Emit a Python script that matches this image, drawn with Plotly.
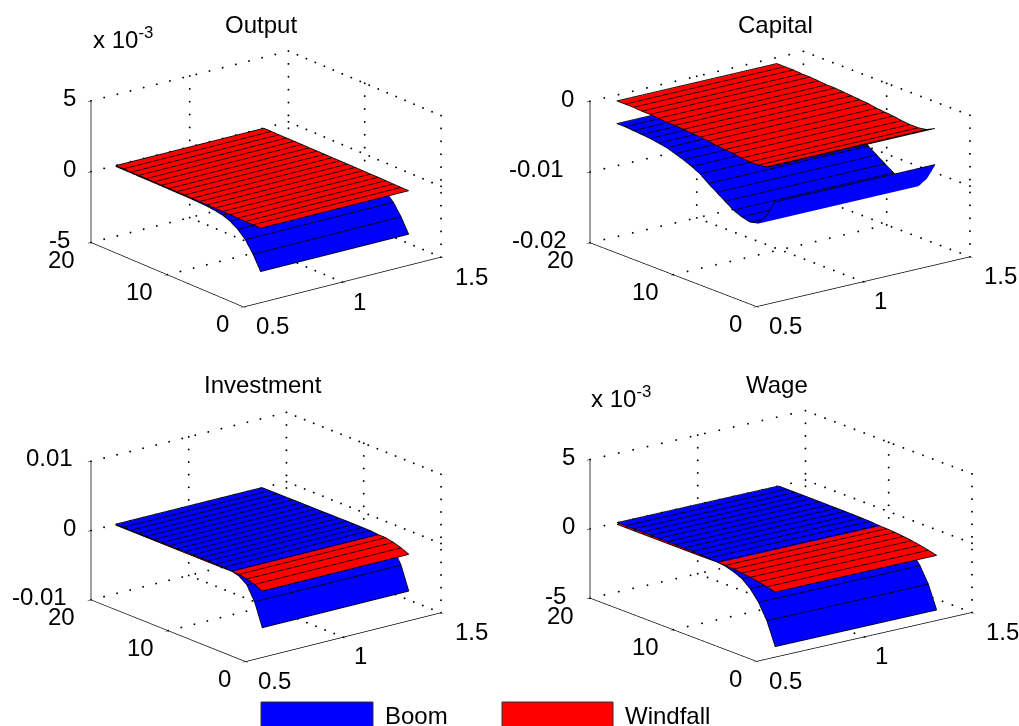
import math
import numpy as np
import plotly.graph_objects as go

x_surface = [0.625, 1.375]
periods = list(range(1, 21))

output_boom = [-3.2e-3,-2.2e-3,-1.4e-3,-0.9e-3,-0.55e-3,-0.35e-3,-0.25e-3,-0.19e-3,-0.16e-3,-0.14e-3,-0.13e-3,-0.13e-3,-0.12e-3,-0.12e-3,-0.11e-3,-0.11e-3,-0.11e-3,-0.10e-3,-0.10e-3,-0.10e-3]
output_windfall = [-0.13e-3,-0.12e-3,-0.11e-3,-0.10e-3,-0.09e-3,-0.09e-3,-0.08e-3,-0.08e-3,-0.07e-3,-0.07e-3,-0.07e-3,-0.06e-3,-0.06e-3,-0.06e-3,-0.05e-3,-0.05e-3,-0.05e-3,-0.05e-3,-0.04e-3,-0.04e-3]
capital_boom = [-0.0066,-0.0090,-0.0105,-0.0108,-0.0105,-0.0100,-0.0092,-0.0084,-0.0076,-0.0067,-0.0061,-0.0056,-0.0052,-0.0048,-0.0046,-0.0044,-0.0043,-0.0042,-0.0041,-0.0041]
capital_windfall = [-0.0015,-0.0021,-0.0023,-0.0023,-0.0022,-0.0020,-0.0019,-0.0018,-0.0016,-0.0015,-0.0014,-0.0013,-0.0012,-0.0012,-0.0011,-0.0010,-0.0010,-0.0009,-0.0009,-0.0009]
investment_boom = [-0.0065,-0.0032,-0.0012,-0.0004,-0.00010,0.0,0.00002,0.00003,0.00003,0.00002,0.00002,0.00001,0.00001,0.0,0.0,0.0,-0.00001,-0.00001,-0.00002,-0.00002]
investment_windfall = [-0.0012,-0.0007,-0.00035,-0.00012,-0.00012,-0.00014,-0.00015,-0.00015,-0.00015,-0.00015,-0.00015,-0.00015,-0.00015,-0.00015,-0.00015,-0.00015,-0.00015,-0.00015,-0.00015,-0.00015]
wage_boom = [-4.64e-3,-3.0e-3,-1.9e-3,-1.15e-3,-0.65e-3,-0.38e-3,-0.2e-3,-0.12e-3,-0.07e-3,-0.05e-3,-0.04e-3,-0.03e-3,-0.03e-3,-0.03e-3,-0.02e-3,-0.02e-3,-0.02e-3,-0.02e-3,-0.02e-3,-0.02e-3]
wage_windfall = [-0.7e-3,-0.55e-3,-0.42e-3,-0.32e-3,-0.24e-3,-0.18e-3,-0.14e-3,-0.13e-3,-0.14e-3,-0.15e-3,-0.15e-3,-0.15e-3,-0.15e-3,-0.15e-3,-0.15e-3,-0.15e-3,-0.15e-3,-0.15e-3,-0.15e-3,-0.15e-3]

x_ticks = [0.5, 1, 1.5]
y_ticks = [0, 10, 20]
titles = ["Output", "Capital", "Investment", "Wage"]
legend_names = ["Boom", "Windfall"]
BLUE, RED = "#0000ff", "#ff0000"
FONT = "Liberation Sans"
W, H = 1019, 726
S0 = 174.5

panels = [
    dict(title=titles[0], boom=output_boom, wind=output_windfall, zr=[-5e-3,5e-3], zt=[-5e-3,0,5e-3], zl=["-5","0","5"], zs=[-19,-13,-13], c=(265.5,179), xv=(198,50), yv=(153,66), zp=142, tp=(261,24)),
    dict(title=titles[1], boom=capital_boom, wind=capital_windfall, zr=[-0.02,0], zt=[-0.02,-0.01,0], zl=["-0.02","-0.01","0"], zs=[-21,-24,-14], c=(779.5,179), xv=(214,50), yv=(167,66), zp=142, tp=(775,24)),
    dict(title=titles[2], boom=investment_boom, wind=investment_windfall, zr=[-0.01,0.01], zt=[-0.01,0,0.01], zl=["-0.01","0","0.01"], zs=[-22,-13,-16], c=(265.5,536.5), xv=(196,49), yv=(155,65), zp=139, tp=(263,384)),
    dict(title=titles[3], boom=wage_boom, wind=wage_windfall, zr=[-5e-3,5e-3], zt=[-5e-3,0,5e-3], zl=["-5","0","5"], zs=[-22,-13,-13], c=(780.5,536), xv=(216,49), yv=(167,64), zp=139, tp=(777,384)),
]

fig = go.Figure()
DW, DH = 476, 348
shapes = []
X_SHIFT = {0.5: 11, 1: 9, 1.5: 13}
Y_SHIFT = {0: -12, 10: -12, 20: -14}

def dotted(scene, points, steps):
    xs, ys, zs = [], [], []
    for (a, b), n in zip(zip(points[:-1], points[1:]), steps):
        for t in np.linspace(0, 1, n + 1):
            xs.append(a[0] + (b[0]-a[0])*t); ys.append(a[1] + (b[1]-a[1])*t); zs.append(a[2] + (b[2]-a[2])*t)
    fig.add_trace(go.Scatter3d(x=xs, y=ys, z=zs, mode="markers", scene=scene, showlegend=False, hoverinfo="skip",
                               marker=dict(color="#000000", size=1.1, symbol="circle", line=dict(width=0))))

def tick_note(text, x, y, z, anchor, xs, ys):
    return dict(text=text, x=x, y=y, z=z, showarrow=False, xanchor=anchor, yanchor="middle", xshift=xs, yshift=ys,
                font=dict(family=FONT, size=24, color="black"))

for i, p in enumerate(panels):
    sc = "scene" if i == 0 else f"scene{i+1}"
    zlo, zhi = p["zr"]
    lift = 0.003 * (zhi - zlo)
    for series, col in ((p["boom"], BLUE), (p["wind"], RED)):
        z = [[v, v] for v in series]
        fig.add_trace(go.Surface(x=x_surface, y=periods, z=z, scene=sc, showscale=False,
                                 surfacecolor=[[0, 0] for _ in series], cmin=0, cmax=1,
                                 colorscale=[[0, col], [1, col]], hoverinfo="skip",
                                 lighting=dict(ambient=1, diffuse=0, specular=0, fresnel=0, roughness=1)))
        lx, ly, lz = [], [], []
        for yy, v in zip(periods, series):
            lx += [x_surface[0], x_surface[1], None]; ly += [yy, yy, None]; lz += [v + lift, v + lift, None]
        for xx in x_surface:
            lx += [xx] * len(periods) + [None]; ly += periods + [None]; lz += [v + lift for v in series] + [None]
        fig.add_trace(go.Scatter3d(x=lx, y=ly, z=lz, mode="lines", scene=sc, showlegend=False, hoverinfo="skip",
                                   connectgaps=False, line=dict(color="black", width=1.6)))
    # dotted guides on the floor and the two back walls; the front edges are the solid axes
    for t in x_ticks[1:]:
        dotted(sc, [(t, 0, zlo), (t, 20, zlo), (t, 20, zhi)], [17, 11])
    for t in y_ticks[1:]:
        dotted(sc, [(0.5, t, zlo), (1.5, t, zlo), (1.5, t, zhi)], [15, 11])
    dotted(sc, [(1.5, y_ticks[0], zlo), (1.5, y_ticks[0], zhi)], [11])
    for t in p["zt"][1:]:
        dotted(sc, [(0.5, 20, t), (1.5, 20, t), (1.5, 0, t)], [15, 17])
    xh, xv = p["xv"]; yh, yv = p["yv"]
    s = math.hypot(xh, yh)
    phi = math.atan2(yh, xh)
    e = math.asin(xv / (s * math.sin(phi)))
    f = s / S0
    A = p["zp"] / (s * math.cos(e)) * f
    R = 2.0
    eye = dict(x=-math.sin(phi)*math.cos(e)*R, y=-math.cos(phi)*math.cos(e)*R, z=math.sin(e)*R)
    cx, cy = p["c"]
    ax = dict(showbackground=False, showgrid=False, zeroline=False, showspikes=False, showline=True,
              linecolor="black", linewidth=1.5, ticks="outside", ticklen=4, tickcolor="black",
              showticklabels=False, title=dict(text=""))
    notes = [tick_note(f"{t:g}", t, 0, zlo, "left", X_SHIFT[t], -19) for t in x_ticks]
    notes += [tick_note(f"{t:g}", 0.5, t, zlo, "right", Y_SHIFT[t], -17) for t in y_ticks]
    notes += [tick_note(l, 0.5, 20, t, "right", sh, 3) for t, l, sh in zip(p["zt"], p["zl"], p["zs"])]
    layout_scene = dict(
        domain=dict(x=[(cx-DW/2)/W, (cx+DW/2)/W], y=[1-(cy+DH/2)/H, 1-(cy-DH/2)/H]),
        aspectmode="manual", aspectratio=dict(x=f, y=f, z=A),
        camera=dict(projection=dict(type="orthographic"), eye=eye, center=dict(x=0, y=0, z=0), up=dict(x=0, y=0, z=1)),
        xaxis=dict(ax, range=[0.5, 1.5], tickvals=x_ticks),
        yaxis=dict(ax, range=[0, 20], tickvals=y_ticks),
        zaxis=dict(ax, range=p["zr"], tickvals=p["zt"]),
        annotations=notes,
    )
    fig.update_layout({sc: layout_scene})

def note(text, px, py, anchor="center", size=24):
    return dict(text=text, x=px/W, y=1-py/H, xref="paper", yref="paper", xanchor=anchor, yanchor="middle", showarrow=False,
                font=dict(family=FONT, size=size, color="black"))

anns = [note(p["title"], p["tp"][0], p["tp"][1]) for p in panels]
anns.append(note("x 10<sup>-3</sup>", 91, 38, "left"))
anns.append(note("x 10<sup>-3</sup>", 589, 397, "left"))
anns.append(note(legend_names[0], 383, 715, "left"))
anns.append(note(legend_names[1], 623, 715, "left"))
for x0, x1, col in ((261, 373, BLUE), (502, 613, RED)):
    shapes.append(dict(type="rect", xref="paper", yref="paper", x0=x0/W, x1=x1/W, y0=1-727/H, y1=1-702/H,
                       fillcolor=col, line=dict(color="#333333", width=1)))

fig.update_layout(width=W, height=H, margin=dict(l=0, r=0, t=0, b=0), autosize=False, showlegend=False,
                  paper_bgcolor="white", annotations=anns, shapes=shapes, font=dict(family=FONT, color="black"))
fig.write_html("out.html", config=dict(displayModeBar=False),
               post_script="document.body.style.margin='0';document.body.style.overflow='hidden';")
